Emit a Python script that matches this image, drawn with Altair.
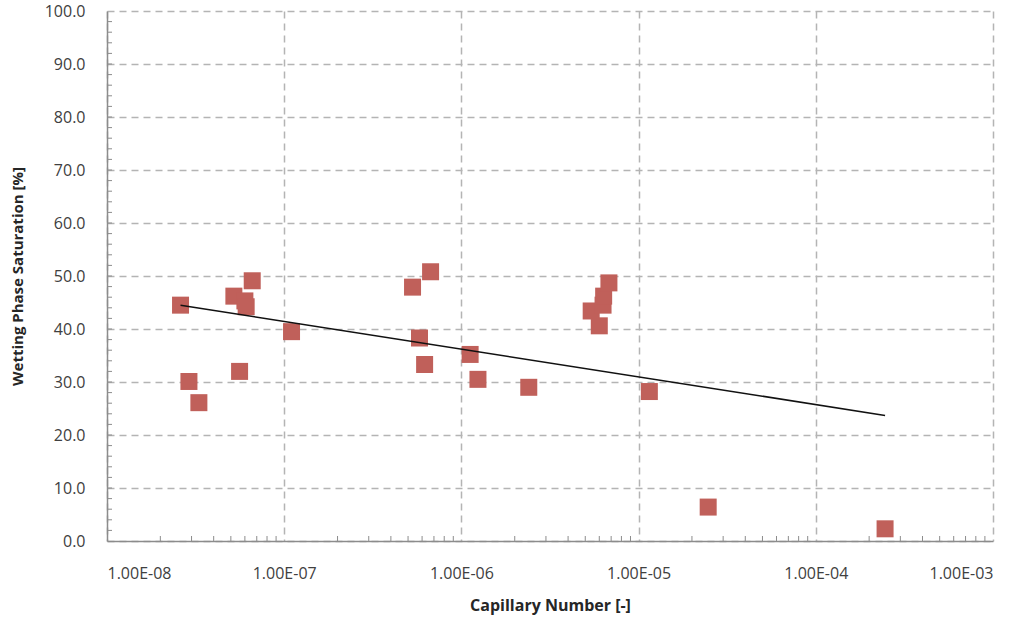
import altair as alt
import pandas as pd

# Data
cap_number = [2.6e-8, 2.9e-8, 3.3e-8, 5.2e-8, 5.6e-8, 6.0e-8, 6.1e-8, 6.6e-8, 1.1e-7,
              5.3e-7, 5.8e-7, 6.2e-7, 6.7e-7, 1.12e-6, 1.24e-6, 2.4e-6,
              5.4e-6, 6.0e-6, 6.3e-6, 6.35e-6, 6.8e-6, 1.15e-5, 2.47e-5, 2.46e-4]
saturation = [44.5, 30.1, 26.1, 46.2, 32.0, 45.3, 44.2, 49.1, 39.5,
              47.9, 38.3, 33.3, 50.8, 35.2, 30.5, 29.0,
              43.4, 40.6, 44.5, 46.2, 48.7, 28.2, 6.4, 2.3]

trend_x = [2.6e-8, 2.46e-4]
trend_y = [44.5, 23.7]

x_ticks = [1e-8, 1e-7, 1e-6, 1e-5, 1e-4, 1e-3]
y_ticks = [0, 10, 20, 30, 40, 50, 60, 70, 80, 90, 100]

minor_x = [m * 10.0 ** k for k in range(-8, -3) for m in range(2, 10)]
minor_y = list(range(2, 100, 2))

pts = pd.DataFrame({"cap": cap_number, "sat": saturation})
trend = pd.DataFrame({"cap": trend_x, "sat": trend_y})
mx = pd.DataFrame({"cap": minor_x})
my = pd.DataFrame({"sat": minor_y})

W, H = 886, 530
xscale = alt.Scale(type="log", domain=[1e-8, 1e-3])
yscale = alt.Scale(domain=[0, 100], nice=False, zero=False)

font = "Open Sans"

xaxis = alt.Axis(values=x_ticks,
                 labelExpr="'1.00E-0' + toString(round(-log(datum.value)/LN10))",
                 title="Capillary Number [-]",
                 tickSize=0, labelPadding=24, titlePadding=16,
                 labelFont=font, labelFontSize=16, labelColor="#404040",
                 titleFont=font, titleFontSize=16, titleFontWeight="bold",
                 titleColor="#262626")
yaxis = alt.Axis(values=y_ticks, format=".1f",
                 title="Wetting Phase Saturation [%]",
                 tickSize=0, labelPadding=22, titlePadding=19,
                 labelFont=font, labelFontSize=16, labelColor="#404040",
                 titleFont=font, titleFontSize=15, titleFontWeight="bold",
                 titleColor="#262626")

xenc = alt.X("cap:Q", scale=xscale, axis=xaxis)
yenc = alt.Y("sat:Q", scale=yscale, axis=yaxis)

points = alt.Chart(pts).mark_square(size=289, color="#C0605A", opacity=1).encode(
    x=xenc, y=yenc,
)

line = alt.Chart(trend).mark_line(color="#111111", strokeWidth=1.5).encode(
    x=xenc, y=yenc,
)

xminor = alt.Chart(mx).mark_rule(color="#8c8c8c", strokeWidth=1).encode(
    x=xenc,
    y=alt.value(H),
    y2=alt.value(H - 5),
)

yminor = alt.Chart(my).mark_rule(color="#8c8c8c", strokeWidth=1).encode(
    y=yenc,
    x=alt.value(0),
    x2=alt.value(5),
)

chart = alt.layer(points, xminor, yminor, line).properties(
    width=W, height=H,
    autosize=alt.AutoSizeParams(type="none"),
    padding={"left": 107, "top": 11, "right": 36, "bottom": 80},
).configure_view(stroke=None).configure_axis(
    grid=True, gridDash=[7, 5], gridColor="#b4b4b4", gridWidth=1.5,
    domainColor="#8c8c8c", domainWidth=1.5,
)

chart.save("out.html", embed_options={"renderer": "svg", "actions": False})
